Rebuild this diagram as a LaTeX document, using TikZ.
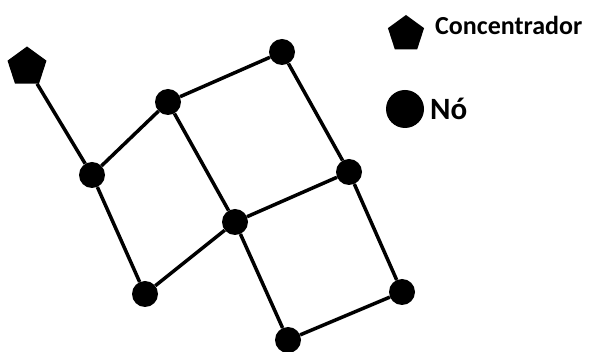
\documentclass[tikz,border=0pt]{standalone}
\usepackage{fontspec}
\setmainfont{Carlito}
\usetikzlibrary{shapes.geometric}
\tikzset{
  netnode/.style={circle,fill=black,inner sep=0pt,minimum size=26pt},
  hub/.style={regular polygon,regular polygon sides=5,fill=black,inner sep=0pt,minimum size=41pt},
  link/.style={line width=3.5pt},
  legendtext/.style={anchor=base west,inner sep=0pt}
}
\begin{document}
\begin{tikzpicture}[x=1pt,y=-1pt]
  \useasboundingbox (0,0) rectangle (595,352);
  % network
  \node[hub] (p) at (27,67) {};
  \node[netnode] (a) at (92,175) {};
  \node[netnode] (b) at (168,102) {};
  \node[netnode] (c) at (282,52) {};
  \node[netnode] (d) at (349,172) {};
  \node[netnode] (e) at (235,222) {};
  \node[netnode] (f) at (145,294) {};
  \node[netnode] (g) at (402,292) {};
  \node[netnode] (h) at (288,340) {};
  \draw[link] (p) -- (a);
  \draw[link] (a) -- (b);
  \draw[link] (b) -- (c);
  \draw[link] (c) -- (d);
  \draw[link] (b) -- (e);
  \draw[link] (d) -- (e);
  \draw[link] (a) -- (f);
  \draw[link] (f) -- (e);
  \draw[link] (e) -- (h);
  \draw[link] (h) -- (g);
  \draw[link] (g) -- (d);
  % legend
  \node[hub,minimum size=38pt] (lp) at (406,34) {};
  \node[legendtext,font=\bfseries\fontsize{26}{30}\selectfont] (lpt) at (435,35) {Concentrador};
  \node[netnode,minimum size=38pt] (ln) at (405,109) {};
  \node[legendtext,font=\bfseries\fontsize{31}{36}\selectfont] (lnt) at (430,120) {Nó};
\end{tikzpicture}
\end{document}
